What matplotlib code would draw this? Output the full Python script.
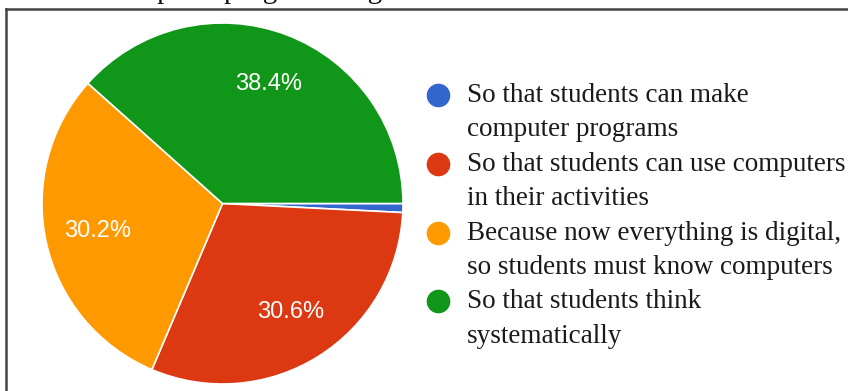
import matplotlib
matplotlib.use('Agg')
import matplotlib.pyplot as plt

# answers and their share of responses (%)
labels = ["So that students can make\ncomputer programs",
          "So that students can use computers\nin their activities",
          "Because now everything is digital,\nso students must know computers",
          "So that students think\nsystematically"]
shares = [0.8, 30.6, 30.2, 38.4]
colors = ['#3366cc', '#dc3912', '#ff9900', '#109618']
top_caption = "computer programming"

W, H = 848, 391
fig = plt.figure(figsize=(W / 100, H / 100), dpi=100)

# pie, placed in pixel terms
cx, cy, r = 222.5, 203.5, 180.5
ax = fig.add_axes([(cx - r) / W, 1 - (cy + r) / H, 2 * r / W, 2 * r / H])
wedges, texts, autotexts = ax.pie(
    shares, colors=colors, startangle=0, counterclock=False,
    autopct=lambda p: f'{p:.1f}%' if p > 5 else '',
    pctdistance=0.71,
    wedgeprops=dict(edgecolor='white', linewidth=1.2),
    textprops=dict(color='white', fontsize=17, family='Liberation Sans'))
ax.set_xlim(-1, 1)
ax.set_ylim(-1, 1)

# overlay in pixel coords for legend, frame and cut-off caption
ov = fig.add_axes([0, 0, 1, 1])
ov.set_xlim(0, W)
ov.set_ylim(H, 0)
ov.axis('off')

ov.plot([6, 6], [9, H], color='#444444', lw=1.8, clip_on=False)
ov.plot([6, W], [9, 9], color='#444444', lw=1.8, clip_on=False)
ov.text(107, -1.5, top_caption, fontsize=21, family='Liberation Serif',
        color='#111111', va='baseline', clip_on=False)

line_y = 102
step = 34.4
for lab, c in zip(labels, colors):
    ov.plot([438], [line_y - 7], marker='o', markersize=16, color=c,
            clip_on=False)
    for ln in lab.split('\n'):
        ov.text(467, line_y, ln, fontsize=19.5, family='Liberation Serif',
                color='#1a1a1a', va='baseline')
        line_y += step

fig.savefig('out.png', dpi=100)
